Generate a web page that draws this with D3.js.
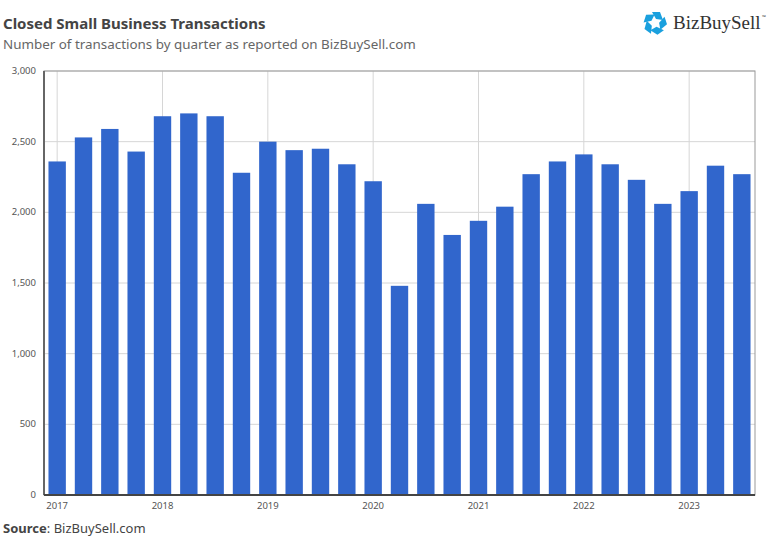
<!DOCTYPE html>
<html><head><meta charset="utf-8">
<script src="https://cdn.jsdelivr.net/npm/d3@7"></script>
<style>body{margin:0;background:#fff;font-family:"Noto Sans",sans-serif}</style>
</head><body><svg id="c" width="771" height="540"></svg>
<script>
const years = ["2017","2018","2019","2020","2021","2022","2023"];
const quarters = ["2017Q1","2017Q2","2017Q3","2017Q4","2018Q1","2018Q2","2018Q3","2018Q4","2019Q1","2019Q2","2019Q3","2019Q4","2020Q1","2020Q2","2020Q3","2020Q4","2021Q1","2021Q2","2021Q3","2021Q4","2022Q1","2022Q2","2022Q3","2022Q4","2023Q1","2023Q2","2023Q3"];
const transactions = [2360,2530,2590,2430,2680,2700,2680,2280,2500,2440,2450,2340,2220,1480,2060,1840,1940,2040,2270,2360,2410,2340,2230,2060,2150,2330,2270];
const yTicks = [0,500,1000,1500,2000,2500,3000];

const svg = d3.select("#c");
const m = {l:44, r:755, t:71, b:495};
const x = d3.scaleBand().domain(quarters).range([m.l, m.r]).paddingInner(0.34).paddingOuter(0.17);
const y = d3.scaleLinear().domain([0,3000]).range([m.b, m.t]);

// grid
svg.append("g").selectAll("line").data(yTicks).join("line")
  .attr("x1", m.l).attr("x2", m.r).attr("y1", d=>y(d)).attr("y2", d=>y(d))
  .attr("stroke", "#d6d6d6");
svg.append("g").selectAll("line").data(years).join("line")
  .attr("x1", d=>x(d+"Q1")+x.bandwidth()/2).attr("x2", d=>x(d+"Q1")+x.bandwidth()/2)
  .attr("y1", m.t).attr("y2", m.b).attr("stroke", "#d6d6d6");

svg.append("g").selectAll("rect").data(quarters).join("rect")
  .attr("x", d=>x(d)).attr("width", x.bandwidth())
  .attr("y", (d,i)=>y(transactions[i])).attr("height", (d,i)=>m.b - y(transactions[i]))
  .attr("fill", "#3166cc");

// frame
svg.append("rect").attr("x", m.l).attr("y", m.t).attr("width", m.r-m.l).attr("height", m.b-m.t)
  .attr("fill","none").attr("stroke","#999").attr("stroke-width",1);
svg.append("line").attr("x1",m.l).attr("x2",m.l).attr("y1",m.t).attr("y2",m.b).attr("stroke","#666").attr("stroke-width",2);
svg.append("line").attr("x1",m.l).attr("x2",m.r).attr("y1",m.b).attr("y2",m.b).attr("stroke","#444").attr("stroke-width",2);

svg.append("g").selectAll("text").data(yTicks).join("text")
  .attr("x", 36).attr("y", d=>y(d)+3).attr("text-anchor","end")
  .attr("font-size", 9.5).attr("fill","#555").text(d=>d3.format(",")(d));
svg.append("g").selectAll("text").data(years).join("text")
  .attr("x", d=>x(d+"Q1")+x.bandwidth()/2).attr("y", 509).attr("text-anchor","middle")
  .attr("font-size", 9.5).attr("fill","#555").text(d=>d);

svg.append("text").attr("x",3).attr("y",29).attr("font-size",15).attr("font-weight","bold").attr("fill","#444")
  .text("Closed Small Business Transactions");
svg.append("text").attr("x",3).attr("y",49).attr("font-size",13.4).attr("fill","#666")
  .text("Number of transactions by quarter as reported on BizBuySell.com");
const src = svg.append("text").attr("x",3).attr("y",533).attr("font-size",13).attr("fill","#444");
src.append("tspan").attr("font-weight","bold").text("Source");
src.append("tspan").text(": BizBuySell.com");

// logo
const lg = svg.append("g").attr("transform","translate(655,23)");
[0,72,144,216,288].forEach(a=>{
  lg.append("path").attr("d","M-3,-11 L5,-11 L8,-3 L1,-4 Z")
    .attr("transform",`rotate(${a})`).attr("fill","#1aa0de");
});
svg.append("text").attr("x",673).attr("y",29).attr("font-family","'Liberation Serif',serif")
  .attr("font-size",19).attr("fill","#333").text("BizBuySell");
svg.append("text").attr("x",762).attr("y",19).attr("font-size",5).attr("fill","#333").text("™");
</script></body></html>
